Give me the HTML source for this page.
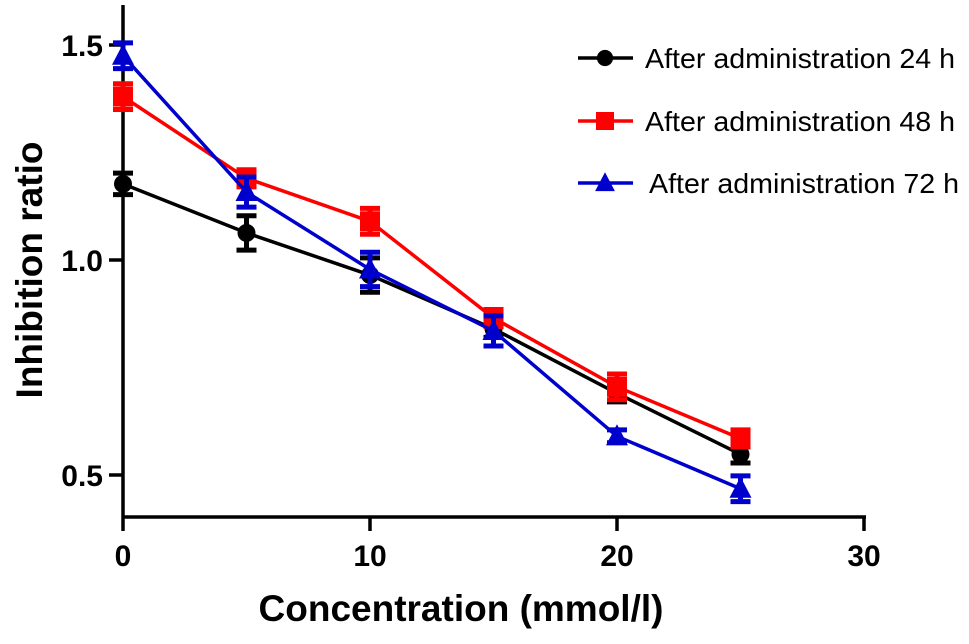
<!DOCTYPE html>
<html><head><meta charset="utf-8"><style>
html,body{margin:0;padding:0;background:#fff;}
svg{display:block;font-family:"Liberation Sans",Arial,sans-serif;}
</style></head><body>
<svg id="chart" width="969" height="644" viewBox="0 0 969 644">
<g id="axes"></g>
<g id="series"></g>
<g id="legend"></g>
<text x="461" y="621" font-size="37" font-weight="bold" text-anchor="middle">Concentration (mmol/l)</text>
<text transform="translate(42,270) rotate(-90)" font-size="37" font-weight="bold" text-anchor="middle">Inhibition ratio</text>
</svg>
<script>
const xValues = [0, 5, 10, 15, 20, 25];
const series24 = [1.177, 1.063, 0.965, 0.84, 0.69, 0.548];
const series48 = [1.38, 1.19, 1.09, 0.865, 0.705, 0.585];
const series72 = [1.475, 1.158, 0.978, 0.835, 0.59, 0.468];
const err24 = [0.025, 0.04, 0.04, 0.02, 0.02, 0.02];
const err48 = [0.03, 0.02, 0.03, 0.02, 0.03, 0.02];
const err72 = [0.03, 0.035, 0.04, 0.035, 0.015, 0.03];
const xTicks = [0, 10, 20, 30];
const yTicks = [0.5, 1.0, 1.5];
const seriesNames = ["After administration 24 h", "After administration 48 h", "After administration 72 h"];

const NS = "http://www.w3.org/2000/svg";
const X = v => 123 + (v / 30) * 741;
const Y = v => 260 - (v - 1.0) * 430;
function mk(tag, attrs, parent) {
  const e = document.createElementNS(NS, tag);
  for (const k in attrs) e.setAttribute(k, attrs[k]);
  parent.appendChild(e);
  return e;
}
const axes = document.getElementById('axes');
let a = mk('line', {x1: 123, y1: 5, x2: 123, y2: 517, stroke: '#000', 'stroke-width': 3.5}, axes);


a = mk('line', {x1: 121.5, y1: 517, x2: 866, y2: 517, stroke: '#000', 'stroke-width': 3.5}, axes);


xTicks.forEach(t => {
  const l = mk('line', {x1: X(t), y1: 517, x2: X(t), y2: 531, stroke: '#000', 'stroke-width': 3.5}, axes);
  
  
  const tx = mk('text', {x: X(t), y: 566, 'font-size': 30, 'font-weight': 'bold', 'text-anchor': 'middle'}, axes);
  tx.textContent = t;
  
  
});
yTicks.forEach(t => {
  const l = mk('line', {x1: 109, y1: Y(t), x2: 123, y2: Y(t), stroke: '#000', 'stroke-width': 3.5}, axes);
  
  
  const tx = mk('text', {x: 103, y: Y(t) + 11, 'font-size': 30, 'font-weight': 'bold', 'text-anchor': 'end'}, axes);
  tx.textContent = t.toFixed(1);
  
  
});

const sg = document.getElementById('series');
function marker(g, type, cx, cy, color, s) {
  let m;
  if (type === 'circle') m = mk('circle', {cx, cy, r: s * 0.9, fill: color}, g);
  else if (type === 'square') m = mk('rect', {x: cx - s, y: cy - s, width: 2 * s, height: 2 * s, fill: color}, g);
  else m = mk('polygon', {points: `${cx},${cy - s * 1.2} ${cx - s * 1.1},${cy + s * 0.9} ${cx + s * 1.1},${cy + s * 0.9}`, fill: color}, g);
  return m;
}
function drawSeries(vals, errs, color, type, name) {
  const g = mk('g', {}, sg);
  
  
  const pts = xValues.map((x, i) => X(x) + ',' + Y(vals[i])).join(' ');
  const pl = mk('polyline', {points: pts, fill: 'none', stroke: color, 'stroke-width': 3.5}, g);
  
  
  xValues.forEach((x, i) => {
    const cx = X(x), y1 = Y(vals[i] + errs[i]), y2 = Y(vals[i] - errs[i]);
    const eb = mk('path', {d: `M${cx},${y1}V${y2}M${cx - 10},${y1}H${cx + 10}M${cx - 10},${y2}H${cx + 10}`, stroke: color, 'stroke-width': 5, fill: 'none'}, g);
    
    
    const m = marker(g, type, cx, Y(vals[i]), color, 10);
    
    
  });
}
drawSeries(series24, err24, '#000', 'circle', 'series-24h');
drawSeries(series48, err48, '#f00', 'square', 'series-48h');
drawSeries(series72, err72, '#00c', 'triangle', 'series-72h');

const lg = document.getElementById('legend');
const lcolors = ['#000', '#f00', '#00c'];
const ltypes = ['circle', 'square', 'triangle'];
const lys = [58, 121, 183];
seriesNames.forEach((n, i) => {
  const g = mk('g', {}, lg);
  
  
  mk('line', {x1: 578, y1: lys[i], x2: 633, y2: lys[i], stroke: lcolors[i], 'stroke-width': 3.5}, g);
  marker(g, ltypes[i], 605, lys[i], lcolors[i], 9);
  const t = mk('text', {x: 645 + (i === 2 ? 4 : 0), y: lys[i] + 10, 'font-size': 28, textLength: 310, lengthAdjust: 'spacingAndGlyphs'}, g);
  t.textContent = n;
  
  
});
</script>
</body></html>
